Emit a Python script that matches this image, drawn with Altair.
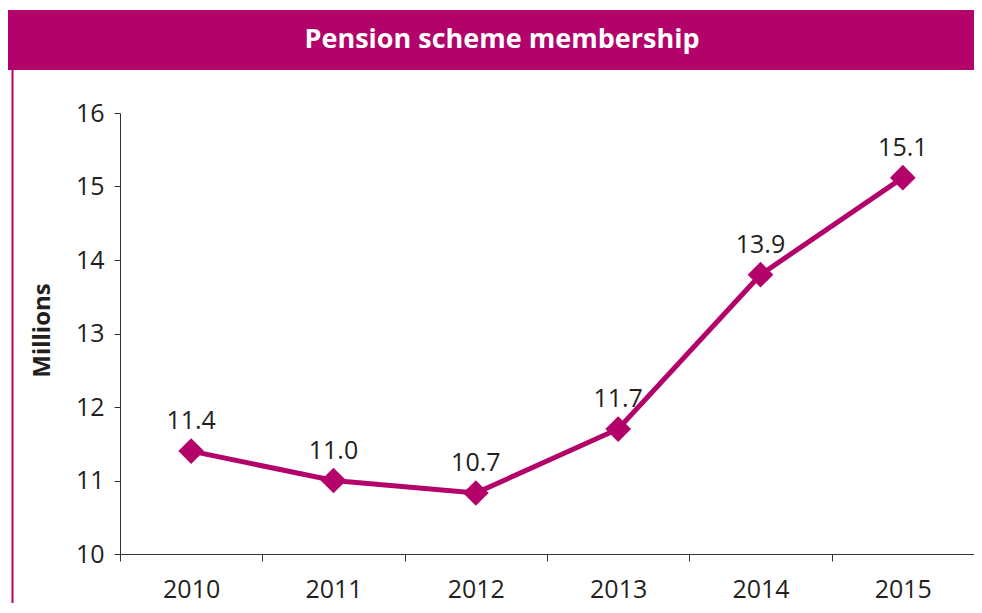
import altair as alt
import pandas as pd

years = ["2010", "2011", "2012", "2013", "2014", "2015"]
values = [11.4, 11.0, 10.83, 11.7, 13.8, 15.12]
labels = ["11.4", "11.0", "10.7", "11.7", "13.9", "15.1"]
title_text = "Pension scheme membership"
y_title = "Millions"

MAG = "#B3036B"
TXT = "#231F20"
FONT = "Open Sans"

df = pd.DataFrame({"year": years, "value": values, "label": labels})

W, H = 854, 441

base = alt.Chart(df).encode(
    x=alt.X("year:N", sort=years,
            scale=alt.Scale(paddingInner=0, paddingOuter=0),
            axis=alt.Axis(title=None, labelAngle=0, tickBand="extent",
                          labelFontSize=25, labelFont=FONT, labelColor=TXT,
                          labelPadding=16, tickSize=7, domainColor="#333333",
                          tickColor="#333333", grid=False)),
    y=alt.Y("value:Q", scale=alt.Scale(domain=[10, 16], nice=False, zero=False),
            axis=alt.Axis(title=y_title, values=[10, 11, 12, 13, 14, 15, 16],
                          labelFontSize=25, labelFont=FONT, labelColor=TXT,
                          labelPadding=10, tickSize=6, domainColor="#333333",
                          tickColor="#333333", grid=False,
                          titleFont=FONT, titleFontSize=24, titleFontWeight="bold",
                          titleColor=TXT, titleAngle=-90, titleX=-78, titleY=217,
                          titleAlign="center", titleBaseline="middle")),
)

line = base.mark_line(color=MAG, strokeWidth=5)
pts = base.mark_point(shape="diamond", size=660, filled=True, color=MAG, opacity=1)
txt = base.mark_text(font=FONT, fontSize=25, color=TXT, baseline="alphabetic", dy=-22).encode(
    text="label:N")

hdr_df = pd.DataFrame({"t": [title_text]})
header = alt.Chart(hdr_df).mark_rect(color=MAG).encode(
    x=alt.value(-113), x2=alt.value(870), y=alt.value(-103), y2=alt.value(-43))
header_txt = alt.Chart(hdr_df).mark_text(
    font=FONT, fontSize=27, fontWeight="bold", color="white",
    align="center", baseline="middle").encode(
    x=alt.value(382), y=alt.value(-73), text="t:N")
border = alt.Chart(hdr_df).mark_rule(color=MAG, strokeWidth=2).encode(
    x=alt.value(-107.5), y=alt.value(-43), y2=alt.value(520))

chart = alt.layer(header, header_txt, border, line, pts, txt).properties(
    width=W, height=H,
    autosize=alt.AutoSizeParams(type="none"),
    padding={"left": 112, "top": 105, "right": 0, "bottom": 49},
).configure_view(stroke=None)

chart.save("out.html", embed_options={"renderer": "svg", "actions": False})
